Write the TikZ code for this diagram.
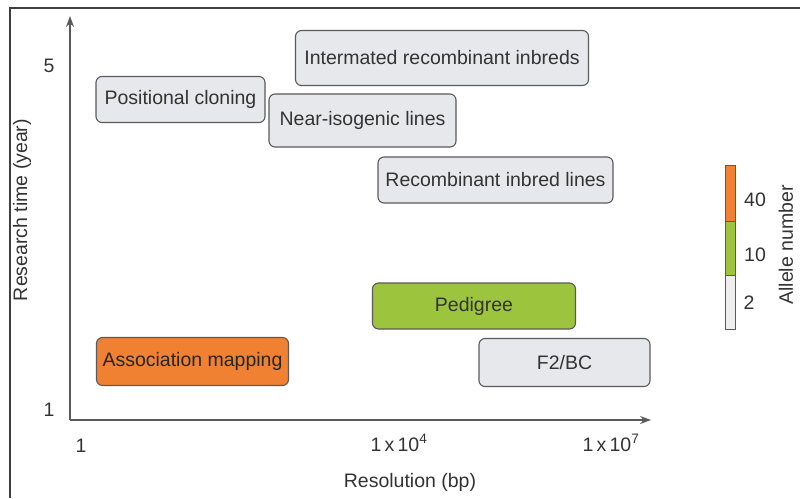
\documentclass[tikz,border=0pt]{standalone}
\usepackage{fontspec}
\setmainfont{Liberation Sans}
\usetikzlibrary{arrows.meta}
\definecolor{boxgray}{HTML}{E7E8EB}
\definecolor{lineclr}{HTML}{5A5A5A}
\definecolor{txtclr}{HTML}{333333}
\definecolor{orangefill}{HTML}{F08132}
\definecolor{greenfill}{HTML}{9CC43C}
\definecolor{legendgray}{HTML}{EEEEEE}
\tikzset{
  method/.style={draw=lineclr, line width=1.1pt, rounded corners=6pt, fill=boxgray,
    text=txtclr, inner sep=0pt, font=\fontsize{19.5}{22}\selectfont},
  lbl/.style={text=txtclr, inner sep=0pt, font=\fontsize{19.5}{22}\selectfont},
  axis/.style={draw=lineclr, line width=1.3pt, -{Stealth[length=11pt,width=8pt]}},
}
\begin{document}
\begin{tikzpicture}[x=1pt, y=-1pt]
\useasboundingbox (0,0) rectangle (800,498);
\fill[white] (0,0) rectangle (800,498);
% outer frame (top and left edges)
\draw[draw=black!75, line width=1.8pt] (800,8) -- (10,8) -- (10,498);

% axes
\coordinate (origin) at (70,420);
\coordinate (ytip) at (70,16);
\coordinate (xtip) at (651,420);
\draw[axis] (origin) -- (ytip);
\draw[axis] (origin) -- (xtip);

% tick labels
\node[lbl] (y5) at (49,66) {5};
\node[lbl] (y1) at (49,410) {1};
\node[lbl] (x1) at (81,446) {1};
\node[lbl] (x4) at (399,443) {1\,x\,10\textsuperscript{4}};
\node[lbl] (x7) at (611,443) {1\,x\,10\textsuperscript{7}};

% axis titles
\node[lbl] (xtitle) at (410,482) {Resolution (bp)};
\node[lbl, rotate=90] (ytitle) at (22,210) {Research time (year)};

% methods
\node[method, minimum width=293pt, minimum height=55pt] (imri) at (442,58) {Intermated recombinant inbreds};
\node[method, minimum width=169pt, minimum height=46pt] (pc) at (180.5,99.5) {Positional cloning};
\node[method, minimum width=187pt, minimum height=53pt] (nil) at (362.5,120.5) {Near-isogenic lines};
\node[method, minimum width=235pt, minimum height=46pt] (ril) at (495.5,180) {Recombinant inbred lines};
\node[method, fill=greenfill, minimum width=203pt, minimum height=46pt] (ped) at (474,306) {Pedigree};
\node[method, fill=orangefill, text=black!85, minimum width=192pt, minimum height=48pt] (am) at (192.5,361.5) {Association mapping};
\node[method, minimum width=171pt, minimum height=48pt] (f2) at (564.5,362.5) {F2/BC};

% allele number scale
\fill[orangefill] (725,165) rectangle (735,221);
\fill[greenfill] (725,221) rectangle (735,275);
\fill[legendgray] (725,275) rectangle (735,329);
\draw[lineclr, line width=0.8pt] (725,221) -- (735,221) (725,275) -- (735,275);
\draw[lineclr, line width=0.9pt] (725,165) rectangle (735,329);
\node[lbl] (a40) at (755,200) {40};
\node[lbl] (a10) at (755,255) {10};
\node[lbl] (a2) at (749,303) {2};
\node[lbl, rotate=90] (atitle) at (786,245) {Allele number};
\end{tikzpicture}
\end{document}
